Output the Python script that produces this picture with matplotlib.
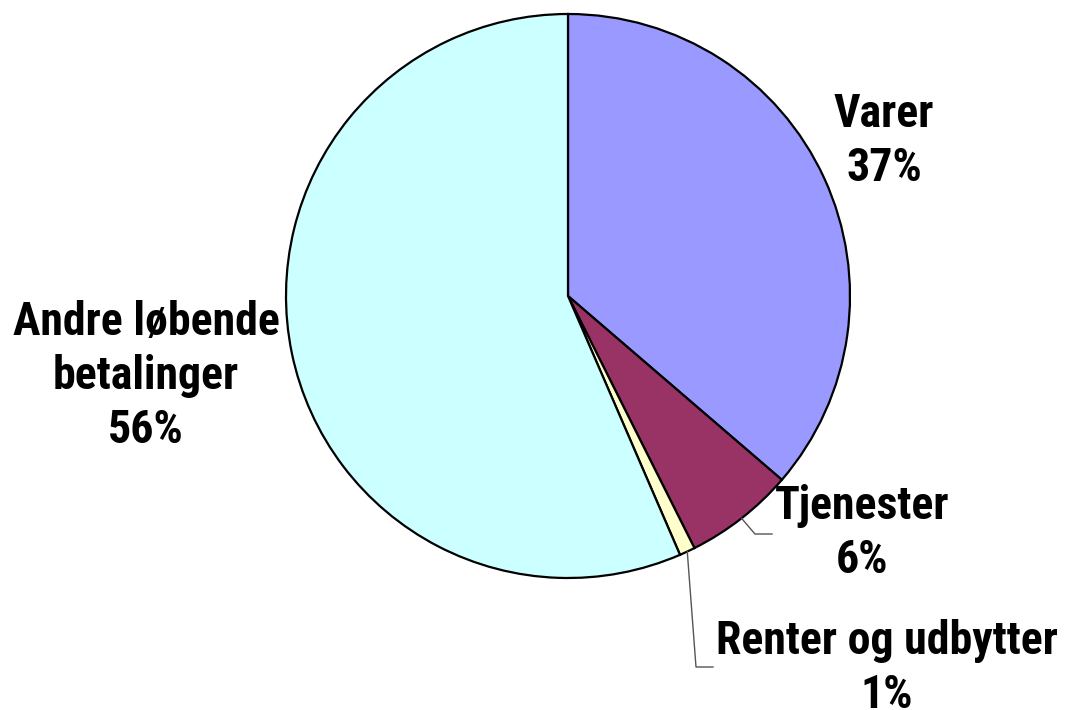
#!/usr/bin/env python3

import matplotlib
matplotlib.use("Agg")
import matplotlib.pyplot as plt
import numpy as np

# slice data, clockwise from 12 o'clock
categories = ["Varer", "Tjenester", "Renter og udbytter", "Andre løbende\nbetalinger"]
shares = [36.3, 6.3, 0.9, 56.5]
pct_labels = ["37%", "6%", "1%", "56%"]
colors = ["#9999FF", "#993366", "#FFFFCC", "#CCFFFF"]

W, H = 1068, 710

plt.rcParams['font.family'] = ['Roboto Condensed', 'DejaVu Sans']

fig = plt.figure(figsize=(W / 100, H / 100), dpi=100)
ax = fig.add_axes([0, 0, 1, 1])

cx, cy, r = 568, H - 296, 282
wedges, _ = ax.pie(shares, colors=colors, startangle=90, counterclock=False,
                   center=(cx, cy), radius=r, frame=True,
                   wedgeprops=dict(edgecolor='black', linewidth=1.6))
ax.set_xlim(0, W)
ax.set_ylim(0, H)
ax.axis('off')

# label positions (pixel coords from top-left)
label_pos = [(884, 141), (862, 533), (887, 668), (146, 376)]
for cat, pct, (px, py) in zip(categories, pct_labels, label_pos):
    ax.text(px, H - py, f"{cat}\n{pct}", ha='center', va='center',
            fontsize=33, fontweight='bold', linespacing=1.28)

# leader lines for the two small slices
leaders = {1: [(755, 534), (772, 534)], 2: [(696, 667), (713, 667)]}
for i, pts in leaders.items():
    w = wedges[i]
    mid = np.deg2rad((w.theta1 + w.theta2) / 2)
    x0, y0 = cx + r * np.cos(mid), cy + r * np.sin(mid)
    xs = [x0] + [p[0] for p in pts]
    ys = [y0] + [H - p[1] for p in pts]
    ax.plot(xs, ys, color='#555555', linewidth=1.0)

plt.savefig("out.png", dpi=100)
